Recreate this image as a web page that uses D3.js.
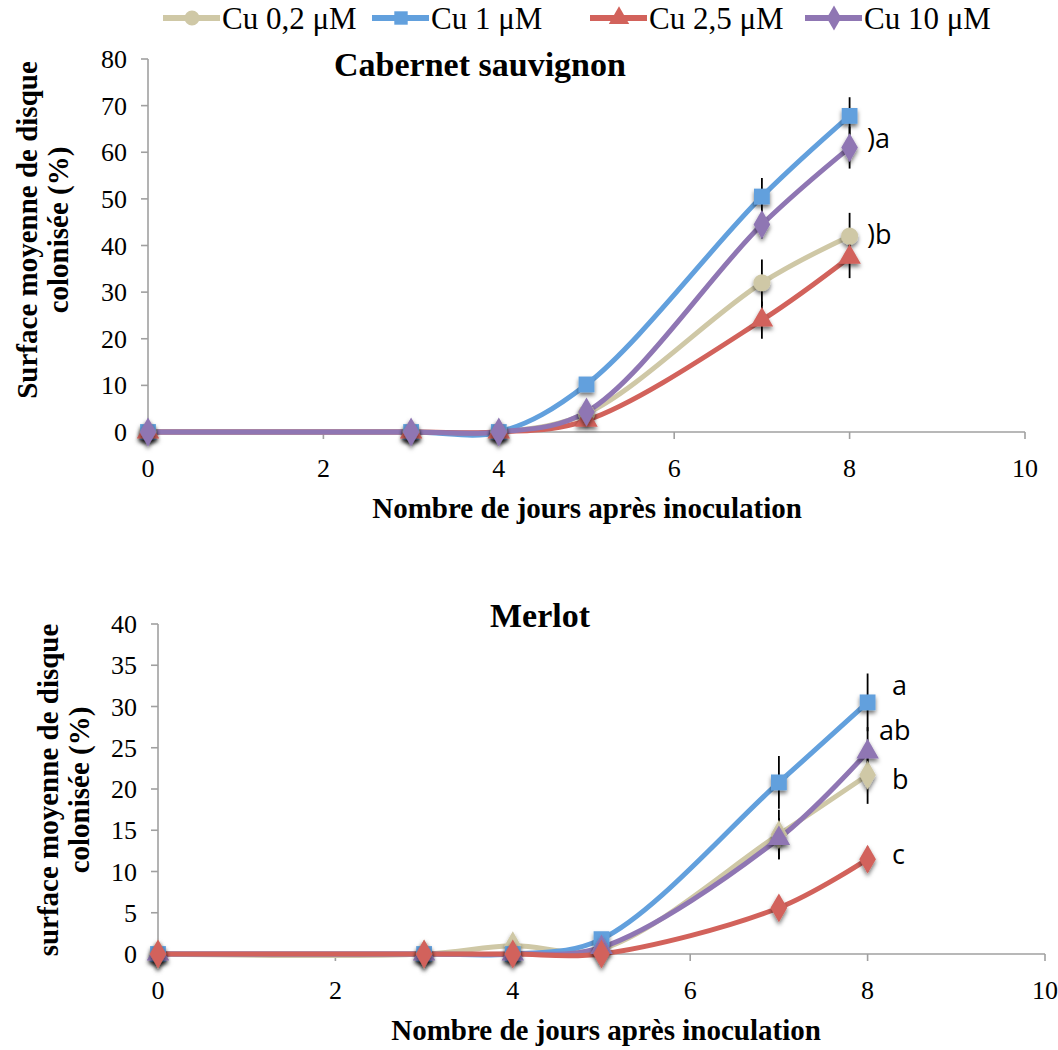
<!DOCTYPE html>
<html><head><meta charset="utf-8">
<script src="https://cdn.jsdelivr.net/npm/d3@7"></script>
<style>body{margin:0;background:#fff}svg{display:block}</style>
</head><body>
<svg id="c" width="1058" height="1050"></svg>
<script>
// ---- data ----
const days = [0, 3, 4, 5, 7, 8];
const seriesNames = ["Cu 0,2 \u03bcM", "Cu 1 \u03bcM", "Cu 2,5 \u03bcM", "Cu 10 \u03bcM"];
const colors = ["#cfc8a6", "#62a0dd", "#d2625b", "#8f76b3"];

const cabCu02 = [0, 0, 0, 4, 32, 42];
const cabCu1  = [0, 0, 0, 10.2, 50.5, 67.8];
const cabCu25 = [0, 0, 0, 2.5, 24, 37.5];
const cabCu10 = [0, 0, 0, 4.3, 44.5, 61];
const cabErrCu02 = [0, 0, 0, 0, 5, 5];
const cabErrCu1  = [0, 0, 0, 1.5, 4, 4];
const cabErrCu25 = [0, 0, 0, 0, 4, 4.5];
const cabErrCu10 = [0, 0, 0, 0, 3, 4.5];

const merCu02 = [0, 0, 1, 0.6, 14.5, 21.7];
const merCu1  = [0, 0, 0, 1.8, 20.8, 30.5];
const merCu25 = [0, 0, 0, 0, 5.6, 11.5];
const merCu10 = [0, 0, 0, 0.8, 14, 24.5];
const merErrCu02 = [0, 0, 0, 0, 3, 3.5];
const merErrCu1  = [0, 0, 0, 0, 3.2, 3.5];
const merErrCu25 = [0, 0, 0, 0, 0.3, 1.5];
const merErrCu10 = [0, 0, 0, 0, 2.5, 3];

const xTicks = [0, 2, 4, 6, 8, 10];
const cabYTicks = [0, 10, 20, 30, 40, 50, 60, 70, 80];
const merYTicks = [0, 5, 10, 15, 20, 25, 30, 35, 40];
const cabLetters = [")a", ")b"];
const cabLetterVals = [62.8, 42.2];
const merLetters = ["a", "ab", "b", "c"];
const merLetterVals = [32.5, 27, 21.1, 12];

// ---- drawing ----
const svg = d3.select("#c");
const SERIF = "'Liberation Serif','Times New Roman',serif";
const SANS = "'Open Sans','Liberation Sans',sans-serif";

const defs = svg.append("defs");
const f = defs.append("filter").attr("id", "sh").attr("x", "-50%").attr("y", "-50%").attr("width", "200%").attr("height", "200%");
f.append("feDropShadow").attr("dx", 0).attr("dy", 3).attr("stdDeviation", 2).attr("flood-color", "#000").attr("flood-opacity", 0.55);

function txt(g, x, y, s, o) {
  o = o || {};
  return g.append("text")
    .attr("transform", `translate(${x},${y})` + (o.rot ? ` rotate(${o.rot})` : ""))
    .attr("text-anchor", o.anchor || "middle")
    .attr("font-family", o.family || SERIF)
    .attr("font-size", o.size || 26)
    .attr("font-weight", o.bold ? "bold" : "normal")
    .attr("fill", "#000")
    .text(s);
}

const symType = {circle: d3.symbolCircle, square: d3.symbolSquare, triangle: d3.symbolTriangle, diamond: d3.symbolDiamond};
const symSize = {circle: 230, square: 250, triangle: 220, diamond: 240};

function panel(cfg) {
  const g = svg.append("g");
  const x = d3.scaleLinear().domain([0, 10]).range([cfg.x0, cfg.x1]);
  const y = d3.scaleLinear().domain([0, cfg.ymax]).range([cfg.y0, cfg.y1]);

  const ax = g.append("g").attr("stroke", "#a0a0a0").attr("stroke-width", 1.6);
  ax.append("line").attr("x1", x(0)).attr("x2", x(0)).attr("y1", y(0)).attr("y2", y(cfg.ymax));
  ax.append("line").attr("x1", x(0)).attr("x2", x(10)).attr("y1", y(0)).attr("y2", y(0));
  cfg.yTicks.forEach(v => {
    ax.append("line").attr("x1", x(0) - 7).attr("x2", x(0)).attr("y1", y(v)).attr("y2", y(v));
    txt(g, x(0) - cfg.ylabGap, y(v) + 9, v, {anchor: "end"});
  });
  xTicks.forEach(v => {
    ax.append("line").attr("x1", x(v)).attr("x2", x(v)).attr("y1", y(0)).attr("y2", y(0) + 7);
    txt(g, x(v), y(0) + 45, v);
  });

  const line = d3.line().x((d, i) => x(days[i])).y(d => y(d)).curve(d3.curveCatmullRom.alpha(0.5));

  cfg.order.forEach(k => {
    const s = cfg.series[k];
    g.append("path").attr("d", line(s.vals)).attr("fill", "none")
      .attr("stroke", colors[k]).attr("stroke-width", 5).attr("stroke-linejoin", "round");
  });
  cfg.order.forEach(k => {
    const s = cfg.series[k];
    s.vals.forEach((v, i) => {
      if (s.err[i] > 0) {
        g.append("line").attr("x1", x(days[i])).attr("x2", x(days[i]))
          .attr("y1", y(v + s.err[i])).attr("y2", y(Math.max(0, v - s.err[i])))
          .attr("stroke", "#000").attr("stroke-width", 1.8);
      }
    });
  });
  cfg.order.forEach(k => {
    const s = cfg.series[k];
    s.vals.forEach((v, i) => {
      g.append("path").attr("d", d3.symbol().type(symType[s.shape]).size(symSize[s.shape])())
        .attr("transform", `translate(${x(days[i])},${y(v)})`)
        .attr("fill", colors[k]).attr("filter", "url(#sh)");
    });
  });

  txt(g, cfg.titleX, cfg.titleY, cfg.title, {bold: true, size: 34});
  txt(g, cfg.xtX, cfg.xtY, "Nombre de jours apr\u00e8s inoculation", {bold: true, size: 29});
  txt(g, cfg.ytX, cfg.ytY, cfg.ytitle1, {bold: true, size: 29, rot: -90});
  txt(g, cfg.ytX + 31, cfg.ytY, "colonis\u00e9e (%)", {bold: true, size: 29, rot: -90});

  cfg.letters.forEach((L, i) => {
    txt(g, cfg.letX[i], y(cfg.letVals[i]) + 9, L, {anchor: "start", family: SANS, size: 27});
  });
}

panel({
  x0: 148, x1: 1025, y0: 432, y1: 59, ymax: 80, yTicks: cabYTicks, ylabGap: 21,
  series: [
    {vals: cabCu02, err: cabErrCu02, shape: "circle"},
    {vals: cabCu1, err: cabErrCu1, shape: "square"},
    {vals: cabCu25, err: cabErrCu25, shape: "triangle"},
    {vals: cabCu10, err: cabErrCu10, shape: "diamond"}
  ],
  order: [0, 1, 2, 3],
  title: "Cabernet sauvignon", titleX: 480, titleY: 76,
  xtX: 587, xtY: 518, ytX: 37, ytY: 230, ytitle1: "Surface moyenne de disque",
  letters: cabLetters, letVals: cabLetterVals, letX: [867, 867]
});

panel({
  x0: 158, x1: 1045, y0: 954, y1: 624, ymax: 40, yTicks: merYTicks, ylabGap: 21,
  series: [
    {vals: merCu02, err: merErrCu02, shape: "diamond"},
    {vals: merCu1, err: merErrCu1, shape: "square"},
    {vals: merCu25, err: merErrCu25, shape: "diamond"},
    {vals: merCu10, err: merErrCu10, shape: "triangle"}
  ],
  order: [0, 1, 3, 2],
  title: "Merlot", titleX: 540, titleY: 627,
  xtX: 606, xtY: 1040, ytX: 58, ytY: 790, ytitle1: "surface moyenne de disque",
  letters: merLetters, letVals: merLetterVals, letX: [892, 879, 892, 892]
});

// legend
const leg = svg.append("g");
const legX = [163, 372, 590, 805];
const legShapes = ["circle", "square", "triangle", "diamond"];
seriesNames.forEach((n, i) => {
  const lx = legX[i];
  leg.append("line").attr("x1", lx).attr("x2", lx + 57).attr("y1", 18).attr("y2", 18)
    .attr("stroke", colors[i]).attr("stroke-width", 6);
  leg.append("path").attr("d", d3.symbol().type(symType[legShapes[i]]).size(180)())
    .attr("transform", `translate(${lx + 29},18)`).attr("fill", colors[i]);
  txt(leg, lx + 59, 29, n, {anchor: "start", size: 31});
});
</script>
</body></html>
